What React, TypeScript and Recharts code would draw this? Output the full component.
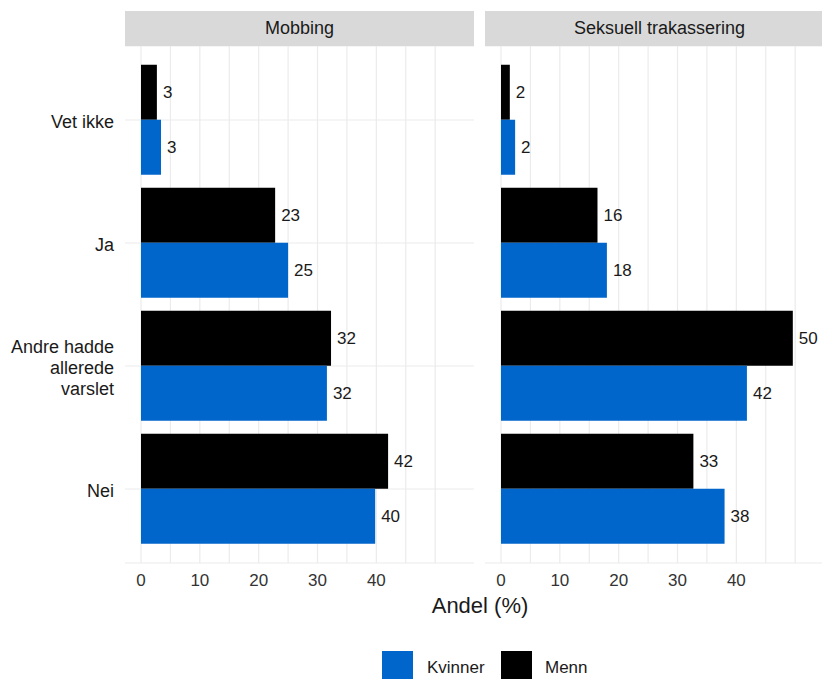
import { BarChart, Bar, XAxis, YAxis, CartesianGrid, LabelList } from 'recharts';

const CATEGORIES = ['Vet ikke', 'Ja', 'Andre hadde\nallerede\nvarslet', 'Nei'];
const MOBBING_MENN = [2.7, 22.8, 32.3, 42.0];
const MOBBING_KVINNER = [3.4, 25.0, 31.6, 39.8];
const SEKSUELL_MENN = [1.5, 16.4, 49.6, 32.7];
const SEKSUELL_KVINNER = [2.4, 18.0, 41.8, 38.0];
const X_TICKS = [0, 10, 20, 30, 40];
const GRID_LINES = [0, 5, 10, 15, 20, 25, 30, 35, 40, 45, 50];

const BLUE = '#0066CC';
const BLACK = '#000000';
const FONT = '"Liberation Sans", Arial, sans-serif';
const PANEL_W = 349;
const PANEL_H = 517;
const Y_AXIS_W = 125;

function CategoryTick(props: any) {
  const { x, y, payload } = props;
  const lines = String(payload.value).split('\n');
  return (
    <text x={x} y={y} textAnchor="end" fontSize={18} fill="#1a1a1a" fontFamily={FONT}>
      {lines.map((line, i) => (
        <tspan key={i} x={x} y={y + 2 + (i - (lines.length - 1) / 2) * 21} dominantBaseline="central">
          {line}
        </tspan>
      ))}
    </text>
  );
}

function ValueTick(props: any) {
  const { x, y, payload } = props;
  if (!X_TICKS.includes(payload.value)) return <g />;
  return (
    <text x={x} y={y} textAnchor="middle" dy="0.71em" fontSize={17} fill="#333" fontFamily={FONT}>
      {payload.value}
    </text>
  );
}

function gridX({ xAxis, offset }: any) {
  if (xAxis && typeof xAxis.scale === 'function') {
    return GRID_LINES.map((v) => xAxis.scale(v));
  }
  return GRID_LINES.map((v) => offset.left + ((v + 2.72) / (56.6 + 2.72)) * offset.width);
}

interface FacetProps {
  title: string;
  menn: number[];
  kvinner: number[];
  showY: boolean;
  left: number;
}

function Facet({ title, menn, kvinner, showY, left }: FacetProps) {
  const data = CATEGORIES.map((c, i) => ({ kategori: c, Menn: menn[i], Kvinner: kvinner[i] }));
  const yWidth = showY ? Y_AXIS_W : 0;
  return (
    <div style={{ position: 'absolute', left: left - yWidth, top: 0 }}>
      <div
        style={{
          position: 'absolute',
          left: yWidth,
          top: 11,
          width: PANEL_W,
          height: 35,
          background: '#D9D9D9',
          color: '#1a1a1a',
          fontSize: 18,
          lineHeight: '35px',
          textAlign: 'center',
          fontFamily: FONT,
        }}
      >
        {title}
      </div>
      <div style={{ position: 'absolute', left: 0, top: 46 }}>
        <BarChart
          width={yWidth + PANEL_W}
          height={PANEL_H + 34}
          layout="vertical"
          data={data}
          margin={{ top: 0, right: 0, bottom: 0, left: 0 }}
          barCategoryGap="5%"
          barGap={0}
        >
          <CartesianGrid stroke="#EBEBEB" strokeWidth={1.2} verticalCoordinatesGenerator={gridX} />
          <XAxis
            type="number"
            domain={[-2.72, 56.6]}
            ticks={GRID_LINES}
            allowDataOverflow
            axisLine={false}
            tickLine={false}
            tickMargin={5}
            height={34}
            tick={<ValueTick />}
          />
          <YAxis
            type="category"
            dataKey="kategori"
            width={yWidth}
            padding={{ top: 12.5, bottom: 12.5 }}
            axisLine={false}
            tickLine={false}
            tickMargin={5}
            tick={showY ? <CategoryTick /> : false}
          />
          <Bar dataKey="Menn" fill={BLACK} isAnimationActive={false}>
            <LabelList
              dataKey="Menn"
              position="right"
              offset={6}
              fontSize={17}
              fill="#1a1a1a"
              fontFamily={FONT}
              formatter={(v: any) => Math.round(Number(v))}
            />
          </Bar>
          <Bar dataKey="Kvinner" fill={BLUE} isAnimationActive={false}>
            <LabelList
              dataKey="Kvinner"
              position="right"
              offset={6}
              fontSize={17}
              fill="#1a1a1a"
              fontFamily={FONT}
              formatter={(v: any) => Math.round(Number(v))}
            />
          </Bar>
        </BarChart>
      </div>
    </div>
  );
}

export default function App() {
  return (
    <div
      style={{
        position: 'absolute',
        left: 0,
        top: 0,
        width: 822,
        height: 679,
        overflow: 'hidden',
        background: '#fff',
        fontFamily: FONT,
      }}
    >
      <Facet title="Mobbing" menn={MOBBING_MENN} kvinner={MOBBING_KVINNER} showY left={125} />
      <Facet title="Seksuell trakassering" menn={SEKSUELL_MENN} kvinner={SEKSUELL_KVINNER} showY={false} left={485} />
      <div
        style={{
          position: 'absolute',
          left: 380,
          top: 592,
          width: 200,
          textAlign: 'center',
          fontSize: 22,
          lineHeight: '28px',
          color: '#1a1a1a',
        }}
      >
        Andel (%)
      </div>
      <div style={{ position: 'absolute', left: 382, top: 651, width: 31, height: 31, background: BLUE }} />
      <div style={{ position: 'absolute', left: 427, top: 657, fontSize: 17, lineHeight: '22px', color: '#1a1a1a' }}>
        Kvinner
      </div>
      <div style={{ position: 'absolute', left: 501, top: 651, width: 31, height: 31, background: BLACK }} />
      <div style={{ position: 'absolute', left: 545, top: 657, fontSize: 17, lineHeight: '22px', color: '#1a1a1a' }}>
        Menn
      </div>
    </div>
  );
}
